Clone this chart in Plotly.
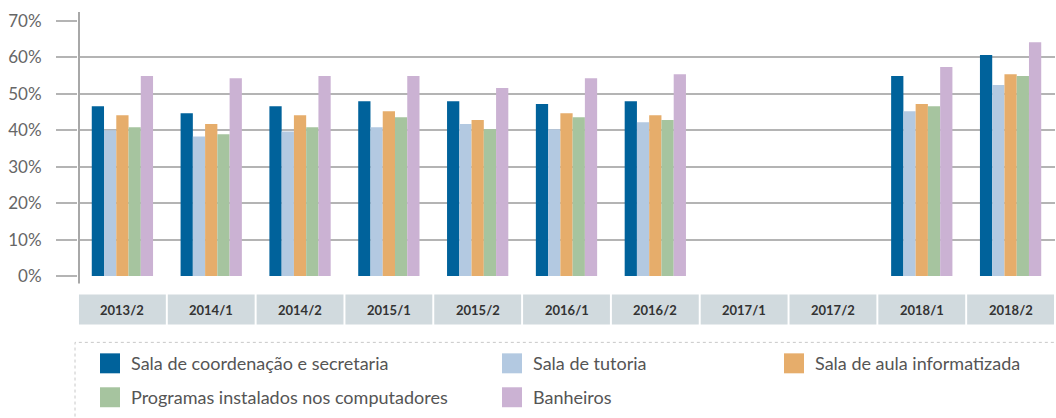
import plotly.graph_objects as go

categories = ["2013/2", "2014/1", "2014/2", "2015/1", "2015/2", "2016/1",
              "2016/2", "2017/1", "2017/2", "2018/1", "2018/2"]

coordenacao = [0.466, 0.447, 0.466, 0.480, 0.480, 0.472, 0.480, None, None, 0.549, 0.607]
tutoria     = [0.400, 0.383, 0.397, 0.408, 0.417, 0.403, 0.422, None, None, 0.452, 0.524]
informatizada = [0.441, 0.417, 0.441, 0.452, 0.428, 0.447, 0.441, None, None, 0.472, 0.554]
programas   = [0.408, 0.389, 0.408, 0.436, 0.403, 0.436, 0.428, None, None, 0.466, 0.549]
banheiros   = [0.549, 0.543, 0.549, 0.549, 0.516, 0.543, 0.554, None, None, 0.574, 0.642]

series_names = ["Sala de coordenação e secretaria", "Sala de tutoria",
                "Sala de aula informatizada", "Programas instalados nos computadores",
                "Banheiros"]
series_values = [coordenacao, tutoria, informatizada, programas, banheiros]
colors = ["#00629b", "#b3c9e1", "#e6ad6b", "#a6c49f", "#cbb2d3"]

tick_vals = [0, 0.1, 0.2, 0.3, 0.4, 0.5, 0.6, 0.7]
tick_text = ["0%", "10%", "20%", "30%", "40%", "50%", "60%", "70%"]

W, H = 1056, 418
ML, MR, MT = 78, 1, 21
PB = 276.5
MB = H - PB
PW = W - ML - MR
PH = PB - MT

def px(x):
    return (x - ML) / PW

def py(y):
    return (PB - y) / PH

FONT = "Lato"
fig = go.Figure()
for name, vals, col in zip(series_names, series_values, colors):
    fig.add_trace(go.Bar(x=categories, y=vals, name=name, marker_color=col,
                         marker_line_width=0, showlegend=False))

shapes = []
annotations = []
# category label boxes
for i, c in enumerate(categories):
    shapes.append(dict(type="rect", xref="x", yref="paper", x0=i - 0.489, x1=i + 0.489,
                       y0=py(325), y1=py(295), fillcolor="#d1dade", line_width=0, layer="below"))
    annotations.append(dict(x=c, xref="x", yref="paper", y=py(310.5), text="<b>%s</b>" % c,
                            showarrow=False, font=dict(family=FONT, size=13, color="#333333"),
                            xanchor="center", yanchor="middle"))
# y axis line
shapes.append(dict(type="line", xref="paper", yref="paper", x0=px(79), x1=px(79),
                   y0=py(284), y1=py(12), line=dict(color="#a8a8a8", width=2)))
# legend dashed box
shapes.append(dict(type="rect", xref="paper", yref="paper", x0=px(75), x1=px(1070),
                   y0=py(430), y1=py(343), line=dict(color="#c8c8c8", width=1, dash="dot"),
                   fillcolor="rgba(0,0,0,0)"))
# legend entries
legend_pos = [(100, 364), (502, 364), (784, 364), (100, 398), (502, 398)]
for (lx, ly), name, col in zip(legend_pos, series_names, colors):
    shapes.append(dict(type="rect", xref="paper", yref="paper", x0=px(lx), x1=px(lx + 20),
                       y0=py(ly + 10), y1=py(ly - 10), fillcolor=col, line_width=0))
    annotations.append(dict(x=px(lx + 29), y=py(ly), xref="paper", yref="paper", text=name,
                            showarrow=False, xanchor="left", yanchor="middle",
                            font=dict(family=FONT, size=18, color="#555555")))

fig.update_layout(
    width=W, height=H,
    margin=dict(l=ML, r=MR, t=MT, b=MB, pad=0, autoexpand=False),
    plot_bgcolor="white", paper_bgcolor="white",
    barmode="group", bargap=0.31, bargroupgap=0,
    shapes=shapes, annotations=annotations,
    xaxis=dict(showticklabels=False, showgrid=False, showline=False, zeroline=False,
               ticks="", range=[-0.5, len(categories) - 0.5], automargin=False),
    yaxis=dict(range=[0, 0.7], tickvals=tick_vals, ticktext=tick_text,
               showgrid=True, gridcolor="#b4b4b4", gridwidth=2, zeroline=False,
               showline=False, ticks="outside", ticklen=21, tickwidth=2,
               tickcolor="#b4b4b4", ticklabelstandoff=11, automargin=False,
               tickfont=dict(family=FONT, size=17, color="#666666")),
    font=dict(family=FONT),
)
fig.write_html("out.html", config={"displayModeBar": False},
               post_script="document.body.style.margin='0';document.body.style.overflow='hidden';")
